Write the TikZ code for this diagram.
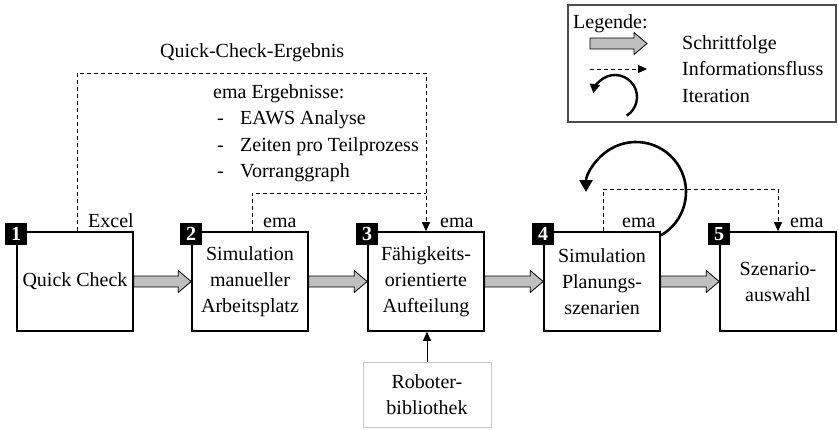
\documentclass[tikz,border=0pt]{standalone}
\usepackage{fontspec}
\setmainfont{Liberation Serif}
\usetikzlibrary{calc,arrows.meta}
\tikzset{
  every node/.style={font=\fontsize{20}{26}\selectfont},
  stepbox/.style={draw, line width=1.6pt, fill=white, minimum width=116pt, minimum height=99pt, align=center, inner sep=2pt},
  badge/.style={fill=black, text=white, font=\fontsize{20}{20}\selectfont\bfseries, minimum size=22pt, inner sep=0pt},
  fat/.style={draw=black, line width=0.8pt, fill=gray!50},
  info/.style={dash pattern=on 4pt off 3pt, line width=0.9pt, -{Triangle[length=9pt,width=8pt]}},
  infoline/.style={dash pattern=on 4pt off 3pt, line width=0.9pt},
  iter/.style={line width=2.6pt, -{Triangle[length=12pt,width=13pt]}},
  lbl/.style={anchor=base west, inner sep=0pt},
}
\newcommand\stepArrow[2]{%
  \draw[fat] let \p1=(#1), \p2=(#2) in
  (\x1,\y1+5.5pt) -- (\x2-13pt,\y1+5.5pt) -- (\x2-13pt,\y1+11pt) -- (\x2,\y1)
  -- (\x2-13pt,\y1-11pt) -- (\x2-13pt,\y1-5.5pt) -- (\x1,\y1-5.5pt) -- cycle;}
\begin{document}
\begin{tikzpicture}[x=1pt,y=-1pt]
\useasboundingbox (0,0) rectangle (838,429);

% iteration arc (behind boxes)
\coordinate (itc) at (636,192);
\draw[iter] ($(itc)+(-60:50pt)$) arc[start angle=-60, end angle=180, radius=50pt];

% step boxes
\node[stepbox] (b1) at (75,281.5) {Quick Check};
\node[stepbox] (b2) at (250,281.5) {Simulation\\manueller\\Arbeitsplatz};
\node[stepbox] (b3) at (426,281.5) {Fähigkeits-\\orientierte\\Aufteilung};
\node[stepbox] (b4) at (602,281.5) {Simulation\\Planungs-\\szenarien};
\node[stepbox] (b5) at (778,281.5) {Szenario-\\auswahl};

% badges
\node[badge] (n1) at ($(b1.north west)+(0,3)$) {1};
\node[badge] (n2) at ($(b2.north west)+(0,3)$) {2};
\node[badge] (n3) at ($(b3.north west)+(0,3)$) {3};
\node[badge] (n4) at ($(b4.north west)+(0,3)$) {4};
\node[badge] (n5) at ($(b5.north west)+(0,3)$) {5};

% step arrows
\stepArrow{b1.east}{b2.west}
\stepArrow{b2.east}{b3.west}
\stepArrow{b3.east}{b4.west}
\stepArrow{b4.east}{b5.west}

% information flow
\draw[info] ($(b1.north)+(2,0)$) |- (426,73) -- (b3.north);
\draw[infoline] ($(b2.north)+(2,0)$) |- (426,193);
\draw[info] ($(b4.north)+(1,0)$) |- (778,189) -- (b5.north);

% labels
\node[lbl] (lx) at (88,227) {Excel};
\node[lbl] (le2) at (263,227) {ema};
\node[lbl] (le3) at (440,227) {ema};
\node[lbl] (le4) at (622,227) {ema};
\node[lbl] (le5) at (790,227) {ema};
\node[lbl] (lq) at (160,57) {Quick-Check-Ergebnis};
\node[lbl] (lr0) at (213,98) {ema Ergebnisse:};
\node[lbl] (lr1) at (217,124.5) {\makebox[23pt][l]{-}EAWS Analyse};
\node[lbl] (lr2) at (217,151) {\makebox[23pt][l]{-}Zeiten pro Teilprozess};
\node[lbl] (lr3) at (217,177) {\makebox[23pt][l]{-}Vorranggraph};

% robot library
\node[draw=gray!45, line width=1pt, minimum width=128pt, minimum height=65pt, align=center, inner sep=2pt] (rb) at (427,394.5) {Roboter-\\bibliothek};
\draw[line width=0.9pt, -{Triangle[length=9pt,width=8pt]}] (rb.north) -- (rb.north |- b3.south);

% legend
\node[draw=gray!60!black, line width=1.2pt, minimum width=268pt, minimum height=117pt, inner sep=0pt] (leg) at (702,63.5) {};
\node[lbl] (lgt) at (573,28) {Legende:};
\coordinate (la1) at (590,43.5);
\coordinate (la2) at (647,43.5);
\stepArrow{la1}{la2}
\coordinate (li1) at (590,69);
\coordinate (li2) at (647,69);
\draw[info] (li1) -- (li2);
\coordinate (ic) at (615,97);
\draw[line width=2.4pt, -{Triangle[length=9pt,width=10pt]}] ($(ic)+(-58:22pt)$) arc[start angle=-58, end angle=170, radius=22pt];
\node[lbl] (lt1) at (682,49) {Schrittfolge};
\node[lbl] (lt2) at (682,75) {Informationsfluss};
\node[lbl] (lt3) at (682,102) {Iteration};
\end{tikzpicture}
\end{document}
